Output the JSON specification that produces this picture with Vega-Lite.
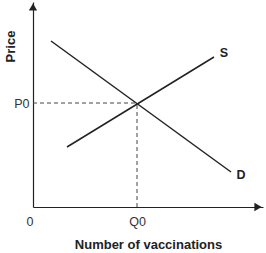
{
  "$schema": "https://vega.github.io/schema/vega-lite/v6.json",
  "width": 230,
  "height": 205,
  "autosize": {"type": "none"},
  "padding": {"left": 33, "top": 2, "right": 3, "bottom": 46},
  "config": {
    "view": {"stroke": null},
    "font": "Liberation Sans",
    "axis": {"grid": false, "ticks": false, "domainColor": "#222", "domainWidth": 1.2, "labelColor": "#333", "labelFontSize": 12.5, "titleFontSize": 13, "titleFontWeight": "bold", "titleColor": "#222"}
  },
  "datasets": {
    "curves": [
      {"curve": "D", "q": 18, "p": 166},
      {"curve": "D", "q": 198, "p": 35},
      {"curve": "S", "q": 34, "p": 60},
      {"curve": "S", "q": 181, "p": 150}
    ],
    "eq": [{"q": 104, "p": 104, "z": 0}]
  },
  "layer": [
    {
      "data": {"name": "curves"},
      "mark": {"type": "line", "color": "#222", "strokeWidth": 1.5},
      "encoding": {
        "x": {"field": "q", "type": "quantitative", "scale": {"domain": [0, 230], "nice": false},
          "axis": {"values": [0, 104], "labelExpr": "datum.value == 0 ? '0' : 'Q0'", "labelAlign": {"expr": "datum.value == 0 ? 'right' : 'center'"}, "labelPadding": 8, "labelFlush": false, "title": "Number of vaccinations", "titlePadding": 11, "labelOverlap": false}},
        "y": {"field": "p", "type": "quantitative", "scale": {"domain": [0, 205], "nice": false},
          "axis": {"values": [104], "labelExpr": "'P0'", "labelPadding": 4, "title": "Price", "titleX": -23, "titleY": 44, "titleAlign": "center", "titleBaseline": "middle"}},
        "detail": {"field": "curve", "type": "nominal"}
      }
    },
    {
      "data": {"name": "curves"},
      "transform": [{"filter": "datum.curve == 'S' && datum.q == 181"}],
      "mark": {"type": "text", "dx": 10, "dy": -4, "fontWeight": "bold", "fontSize": 12.5, "color": "#222"},
      "encoding": {"x": {"field": "q", "type": "quantitative"}, "y": {"field": "p", "type": "quantitative"}, "text": {"field": "curve", "type": "nominal"}}
    },
    {
      "data": {"name": "curves"},
      "transform": [{"filter": "datum.curve == 'D' && datum.q == 198"}],
      "mark": {"type": "text", "dx": 10, "dy": 3, "fontWeight": "bold", "fontSize": 12.5, "color": "#222"},
      "encoding": {"x": {"field": "q", "type": "quantitative"}, "y": {"field": "p", "type": "quantitative"}, "text": {"field": "curve", "type": "nominal"}}
    },
    {
      "data": {"name": "eq"},
      "mark": {"type": "rule", "strokeDash": [4, 3], "color": "#444", "strokeWidth": 1},
      "encoding": {"x": {"field": "z", "type": "quantitative"}, "x2": {"field": "q"}, "y": {"field": "p", "type": "quantitative"}}
    },
    {
      "data": {"name": "eq"},
      "mark": {"type": "rule", "strokeDash": [4, 3], "color": "#444", "strokeWidth": 1},
      "encoding": {"y": {"field": "z", "type": "quantitative"}, "y2": {"field": "p"}, "x": {"field": "q", "type": "quantitative"}}
    },
    {
      "data": {"values": [{"q": 225, "p": 0}]},
      "mark": {"type": "point", "shape": "triangle-right", "filled": true, "color": "#222", "size": 70, "opacity": 1},
      "encoding": {"x": {"field": "q", "type": "quantitative"}, "y": {"field": "p", "type": "quantitative"}}
    },
    {
      "data": {"values": [{"q": 0, "p": 200}]},
      "mark": {"type": "point", "shape": "triangle-up", "filled": true, "color": "#222", "size": 70, "opacity": 1},
      "encoding": {"x": {"field": "q", "type": "quantitative"}, "y": {"field": "p", "type": "quantitative"}}
    }
  ]
}
